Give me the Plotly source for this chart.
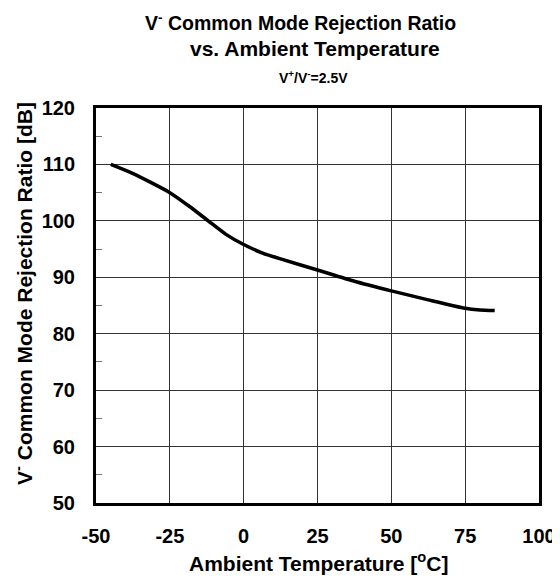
import plotly.graph_objects as go

temperature = [-45, -38, -31.8, -25, -18.2, -12, -6, 0, 6.4, 12.2, 25, 37.5, 50, 62.5, 75, 80, 85]
cmrr_db = [110.0, 108.5, 106.9, 105.0, 102.5, 100.0, 97.6, 95.8, 94.3, 93.3, 91.3, 89.3, 87.6, 86.0, 84.5, 84.2, 84.1]

x_ticks = [-50, -25, 0, 25, 50, 75, 100]
y_ticks = [50, 60, 70, 80, 90, 100, 110, 120]
y_minor = [55, 65, 75, 85, 95, 105, 115]

FONT = "Liberation Sans, Arial, sans-serif"
OFF = 8  # page body margin
W, H = 560 - OFF, 579 - OFF
L, R, T, B = 96 - OFF, 539 - OFF, 108 - OFF, 503 - OFF

def px_x(px):
    return (px - OFF - L) / (R - L)

def px_y(py):
    return (B - (py - OFF)) / (B - T)

fig = go.Figure()
fig.add_trace(go.Scatter(
    x=temperature, y=cmrr_db, mode="lines",
    line=dict(color="black", width=3.5, shape="spline", smoothing=0.6),
    showlegend=False, hoverinfo="skip",
))

fig.update_layout(
    width=W, height=H,
    margin=dict(l=L, r=W - R, t=T, b=H - B, autoexpand=False),
    paper_bgcolor="white", plot_bgcolor="white",
    font=dict(family=FONT, color="black"),
    annotations=[
        dict(text="<b>V<sup>-</sup> Common Mode Rejection Ratio</b>",
             xref="paper", yref="paper", x=px_x(300), y=px_y(22),
             xanchor="center", yanchor="middle", showarrow=False,
             font=dict(size=19.5, family=FONT, color="black")),
        dict(text="<b>vs. Ambient Temperature</b>",
             xref="paper", yref="paper", x=px_x(315), y=px_y(48),
             xanchor="center", yanchor="middle", showarrow=False,
             font=dict(size=21, family=FONT, color="black")),
        dict(text="<b>V<sup>+</sup>/V<sup>-</sup>=2.5V</b>",
             xref="paper", yref="paper", x=px_x(313), y=px_y(77),
             xanchor="center", yanchor="middle", showarrow=False,
             font=dict(size=14, family=FONT, color="black")),
        dict(text="<b>Ambient Temperature [<sup>o</sup>C]</b>",
             xref="paper", yref="paper", x=px_x(318), y=px_y(562),
             xanchor="center", yanchor="middle", showarrow=False,
             font=dict(size=21, family=FONT, color="black")),
        dict(text="<b>V<sup>-</sup> Common Mode Rejection Ratio [dB]</b>",
             xref="paper", yref="paper", x=px_x(23), y=px_y(294),
             xanchor="center", yanchor="middle", showarrow=False, textangle=-90,
             font=dict(size=21, family=FONT, color="black")),
    ],
)

fig.update_xaxes(
    range=[-50, 100], tickvals=x_ticks, ticktext=[f"<b>{v}</b>" for v in x_ticks],
    showgrid=True, gridcolor="#333333", gridwidth=1,
    showline=True, linecolor="black", linewidth=3, mirror=True,
    ticks="", zeroline=False, automargin=False, ticklabelstandoff=13,
    tickfont=dict(size=20, family=FONT, color="black"),
)
fig.update_yaxes(
    range=[50, 120], tickvals=y_ticks, ticktext=[f"<b>{v}</b>" for v in y_ticks],
    showgrid=True, gridcolor="#333333", gridwidth=1,
    showline=True, linecolor="black", linewidth=3, mirror=True,
    ticks="", zeroline=False, automargin=False, ticklabelstandoff=14,
    minor=dict(tickvals=y_minor, ticks="inside",
               ticklen=6, tickcolor="#777777", tickwidth=1, showgrid=False),
    tickfont=dict(size=20, family=FONT, color="black"),
)

fig.write_html("out.html")
